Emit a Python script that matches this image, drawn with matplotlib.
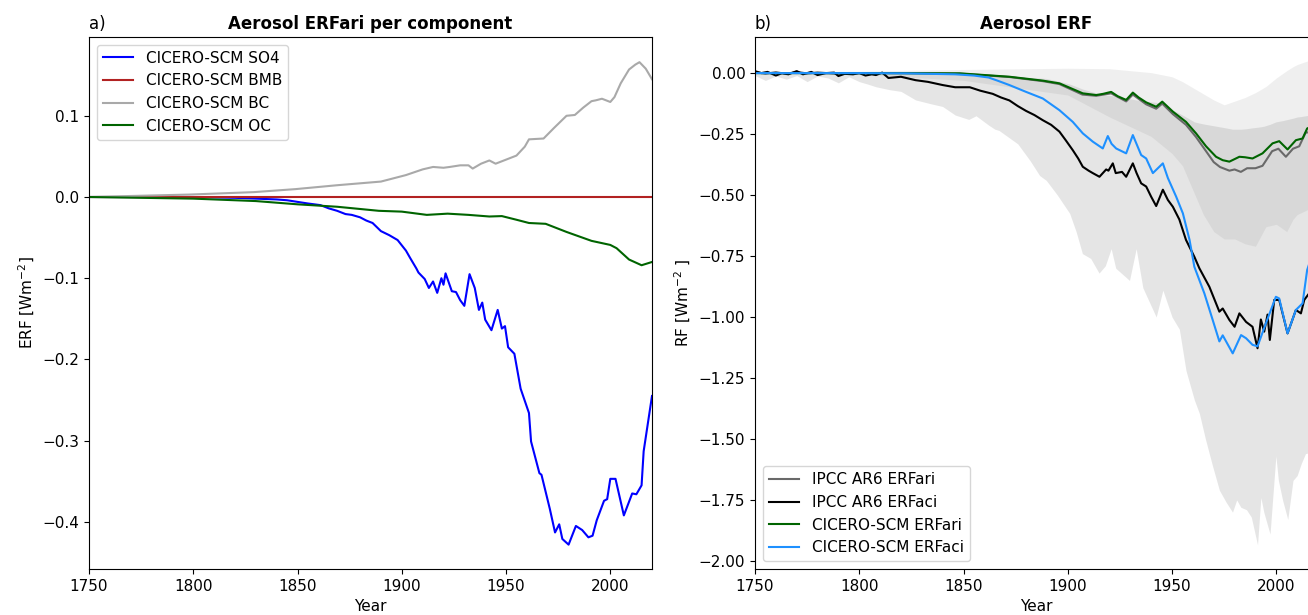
import matplotlib
matplotlib.use("Agg")
import matplotlib.pyplot as plt

plt.rcParams["font.size"] = 11

# ---------------- Panel a) data ----------------
so4_years = [1750, 1800, 1820, 1830, 1840, 1845, 1850, 1855, 1861, 1865, 1869, 1873, 1876, 1880, 1883, 1886,
             1890, 1894, 1898, 1902, 1904, 1907, 1908, 1911, 1913, 1915, 1917, 1919, 1920, 1921, 1924, 1926,
             1928, 1930, 1932.5, 1935, 1937, 1938.6, 1940, 1943, 1946, 1948, 1949.5, 1951, 1954, 1957, 1961,
             1962, 1966, 1967, 1971, 1973.5, 1975.5, 1977, 1980, 1983.5, 1986.5, 1989.5, 1991.5, 1993.5, 1997,
             1998.5, 2000, 2002.5, 2006.5, 2010.5, 2012.5, 2015, 2016, 2020]
so4_vals = [0.0, 0.0, -0.001, -0.002, -0.003, -0.004, -0.006, -0.008, -0.010, -0.014, -0.017, -0.021, -0.022,
            -0.025, -0.029, -0.032, -0.042, -0.047, -0.053, -0.066, -0.075, -0.088, -0.093, -0.101, -0.112,
            -0.104, -0.118, -0.100, -0.108, -0.094, -0.116, -0.117, -0.127, -0.134, -0.095, -0.112, -0.139,
            -0.130, -0.151, -0.164, -0.139, -0.162, -0.159, -0.185, -0.193, -0.236, -0.266, -0.301, -0.340,
            -0.342, -0.384, -0.413, -0.403, -0.421, -0.428, -0.405, -0.410, -0.419, -0.417, -0.398, -0.374,
            -0.372, -0.347, -0.347, -0.392, -0.365, -0.366, -0.355, -0.313, -0.245]

bmb_years = [1750, 2020]
bmb_vals = [0.0, 0.0]

bc_years = [1750, 1798, 1829, 1849, 1869, 1890, 1902, 1910, 1915, 1920, 1923, 1928, 1932, 1934, 1938, 1942,
            1945, 1950, 1955, 1959, 1961, 1968, 1973, 1979, 1983, 1987, 1991, 1993, 1996, 2000, 2002, 2005,
            2009, 2012, 2014, 2017, 2020]
bc_vals = [0.0, 0.003, 0.006, 0.0097, 0.0145, 0.019, 0.027, 0.034, 0.037, 0.036, 0.037, 0.039, 0.039, 0.035,
           0.041, 0.045, 0.041, 0.046, 0.051, 0.062, 0.071, 0.072, 0.085, 0.100, 0.101, 0.110, 0.118, 0.119,
           0.121, 0.117, 0.123, 0.140, 0.157, 0.163, 0.166, 0.158, 0.145]

oc_years = [1750, 1800, 1830, 1850, 1869, 1889, 1900, 1912, 1922, 1932, 1942, 1948, 1955, 1961, 1969, 1979,
            1991, 2000, 2003, 2009, 2015, 2020]
oc_vals = [0.0, -0.002, -0.005, -0.009, -0.012, -0.017, -0.018, -0.022, -0.0205, -0.022, -0.024, -0.0235,
           -0.028, -0.032, -0.033, -0.043, -0.054, -0.059, -0.063, -0.077, -0.084, -0.080]

# ---------------- Panel b) data ----------------
ipcc_ari_years = [1750, 1755, 1760, 1765, 1770, 1775, 1780, 1790, 1800, 1820, 1848, 1872, 1888, 1896, 1907,
                  1913.6, 1920.8, 1928, 1931.2, 1937.6, 1942.4, 1945.3, 1950.4, 1956.7, 1961.5, 1966.3,
                  1970, 1973, 1977.5, 1980, 1983, 1986, 1990, 1993.4, 1998, 2001, 2004.6, 2008, 2011, 2014, 2019]
ipcc_ari_vals = [0.005, -0.003, 0.004, -0.004, 0.006, -0.002, 0.003, -0.004, 0.0, 0.0, -0.002, -0.016, -0.033,
                 -0.045, -0.088, -0.093, -0.083, -0.116, -0.088, -0.128, -0.146, -0.125, -0.168, -0.212,
                 -0.262, -0.320, -0.365, -0.385, -0.400, -0.395, -0.405, -0.390, -0.390, -0.380, -0.320,
                 -0.310, -0.343, -0.310, -0.300, -0.245, -0.235]

ipcc_aci_years = [1750, 1753, 1756, 1760, 1763, 1766, 1770, 1773, 1777, 1780, 1784, 1788, 1790, 1793, 1797,
                  1800, 1803, 1806, 1808, 1811, 1814, 1820, 1827, 1833, 1840, 1846, 1853, 1858, 1864, 1868,
                  1872, 1876, 1880, 1884, 1888, 1892, 1896, 1899, 1902.4, 1905, 1907.2, 1910, 1912, 1915.2,
                  1918.4, 1919.5, 1921.6, 1923, 1926, 1928, 1931.2, 1933, 1935.2, 1937.6, 1940, 1942.4, 1945.6,
                  1948, 1950.4, 1953.5, 1956.7, 1960.7, 1963.1, 1967.9, 1971.1, 1972.7, 1974.3, 1977.5, 1980,
                  1982.3, 1985.5, 1988.6, 1991, 1992.6, 1994.2, 1995.8, 1996.9, 1999, 2001.4, 2005.4, 2009.4,
                  2011.8, 2013.4, 2016, 2019]
ipcc_aci_vals = [0.008, 0.0, 0.005, -0.010, 0.0, -0.005, 0.008, -0.005, 0.005, -0.008, 0.0, 0.002, -0.012,
                 -0.003, -0.005, 0.0, -0.010, -0.005, -0.008, 0.002, -0.020, -0.015, -0.029, -0.036, -0.049,
                 -0.058, -0.058, -0.072, -0.085, -0.100, -0.112, -0.135, -0.155, -0.172, -0.193, -0.212,
                 -0.240, -0.275, -0.316, -0.350, -0.384, -0.400, -0.410, -0.425, -0.395, -0.400, -0.370,
                 -0.410, -0.405, -0.425, -0.370, -0.410, -0.452, -0.465, -0.507, -0.545, -0.478, -0.520,
                 -0.548, -0.600, -0.684, -0.753, -0.800, -0.876, -0.944, -0.978, -0.965, -1.012, -1.040,
                 -0.985, -1.020, -1.040, -1.128, -1.010, -1.060, -0.990, -1.094, -0.930, -0.930, -1.067,
                 -0.971, -0.985, -0.930, -0.900, -0.880]

cicero_ari_years = [1750, 1800, 1848.2, 1872.1, 1888.1, 1896, 1907.2, 1913.6, 1917, 1920.8, 1924, 1928,
                    1931.2, 1934, 1937.6, 1942.4, 1945.3, 1950.4, 1956.7, 1961.5, 1966.3, 1971.1, 1974.3,
                    1977.5, 1982.3, 1985, 1988.6, 1993.4, 1998.2, 2001.4, 2005.4, 2009.4, 2012.6, 2014.8, 2019]
cicero_ari_vals = [0.0, 0.0, -0.001, -0.015, -0.031, -0.042, -0.083, -0.090, -0.085, -0.077, -0.095, -0.110,
                   -0.080, -0.100, -0.120, -0.138, -0.117, -0.158, -0.200, -0.247, -0.300, -0.343, -0.357,
                   -0.363, -0.343, -0.345, -0.350, -0.329, -0.288, -0.279, -0.313, -0.275, -0.268, -0.227,
                   -0.210]

cicero_aci_years = [1750, 1800, 1822, 1846, 1855, 1862, 1866, 1872, 1880, 1888, 1896, 1902.4, 1907.2, 1912,
                    1916.8, 1919.2, 1921, 1923.2, 1928, 1931.2, 1935.2, 1937.6, 1940.8, 1945.6, 1948, 1952,
                    1955.2, 1958.4, 1960.7, 1965.5, 1969.5, 1972.7, 1974.3, 1979.1, 1983.1, 1985.5, 1988.6,
                    1991, 1995, 1999.8, 2001.4, 2005.4, 2009.4, 2012.6, 2014.8, 2019]
cicero_aci_vals = [0.0, 0.0, -0.001, -0.005, -0.010, -0.018, -0.030, -0.049, -0.077, -0.104, -0.152, -0.200,
                   -0.247, -0.281, -0.309, -0.258, -0.290, -0.309, -0.329, -0.254, -0.336, -0.350, -0.410,
                   -0.370, -0.430, -0.507, -0.575, -0.684, -0.794, -0.903, -1.012, -1.100, -1.075, -1.149,
                   -1.074, -1.087, -1.114, -1.120, -1.026, -0.917, -0.924, -1.067, -0.971, -0.944, -0.807,
                   -0.700]

# IPCC AR6 ERFari uncertainty range (upper / lower)
ari_rng_years = [1750, 1800, 1850, 1900, 1920, 1940, 1950, 1955, 1960, 1965, 1970, 1975, 1980, 1985, 1990,
                 1995, 2000, 2005, 2008, 2010, 2015, 2019]
ari_rng_upper = [0.005, 0.008, 0.015, 0.020, 0.018, 0.002, -0.015, -0.035, -0.060, -0.085, -0.110, -0.130,
                 -0.115, -0.100, -0.080, -0.055, -0.020, 0.010, 0.026, 0.035, 0.050, 0.049]
ari_rng_lower = [0.0, -0.005, -0.030, -0.090, -0.180, -0.260, -0.330, -0.380, -0.480, -0.580, -0.650, -0.680,
                 -0.680, -0.700, -0.710, -0.630, -0.620, -0.650, -0.600, -0.580, -0.560, -0.550]

# IPCC AR6 ERFaci uncertainty range (upper / lower)
aci_rng_years = [1750, 1755, 1760, 1765, 1770, 1775, 1780, 1785, 1790, 1795, 1800, 1804, 1808, 1814.5, 1820,
                 1827, 1834, 1840, 1846, 1852.5, 1856, 1862, 1865, 1867, 1876, 1882, 1886.5, 1889.7, 1895,
                 1900.9, 1904, 1907, 1911, 1915, 1918, 1920.8, 1923, 1929.6, 1932.8, 1936, 1942.4, 1945.6,
                 1950, 1953.5, 1956.7, 1960.7, 1963.1, 1966, 1969.4, 1972.7, 1976, 1979, 1981, 1983, 1985.7,
                 1988, 1991, 1992.6, 1994, 1997, 1999.8, 2001, 2003, 2005.5, 2008, 2010, 2012, 2014, 2019]
aci_rng_upper = [0.0, 0.0, 0.0, 0.0, 0.0, 0.0, 0.0, 0.0, 0.0, 0.0, 0.0, 0.0, 0.0, 0.0, 0.0, 0.0, -0.001,
                 -0.002, -0.004, -0.006, -0.008, -0.010, -0.011, -0.012, -0.015, -0.018, -0.020, -0.022,
                 -0.032, -0.045, -0.055, -0.065, -0.075, -0.085, -0.090, -0.092, -0.095, -0.105, -0.110,
                 -0.115, -0.120, -0.125, -0.150, -0.165, -0.180, -0.200, -0.205, -0.210, -0.215, -0.220,
                 -0.225, -0.230, -0.230, -0.230, -0.228, -0.225, -0.222, -0.220, -0.218, -0.210, -0.200,
                 -0.198, -0.195, -0.190, -0.185, -0.180, -0.178, -0.175, -0.170]
aci_rng_lower = [-0.010, -0.030, -0.012, -0.025, -0.010, -0.035, -0.012, -0.020, -0.040, -0.015, -0.035,
                 -0.045, -0.056, -0.068, -0.075, -0.110, -0.125, -0.137, -0.172, -0.190, -0.175, -0.213,
                 -0.230, -0.235, -0.290, -0.360, -0.420, -0.440, -0.500, -0.575, -0.650, -0.740, -0.760,
                 -0.820, -0.790, -0.720, -0.800, -0.850, -0.720, -0.880, -1.000, -0.890, -1.000, -1.050,
                 -1.220, -1.340, -1.395, -1.500, -1.610, -1.710, -1.760, -1.800, -1.750, -1.780, -1.790,
                 -1.820, -1.934, -1.740, -1.800, -1.890, -1.570, -1.670, -1.750, -1.830, -1.670, -1.650,
                 -1.600, -1.560, -1.550]

W, H = 1308, 615
fig = plt.figure(figsize=(W / 100, H / 100), dpi=100)

ax1 = fig.add_axes([89 / W, 1 - 569 / H, (652 - 89) / W, (569 - 37) / H])
ax2 = fig.add_axes([755 / W, 1 - 569 / H, (652 - 89) / W, (569 - 37) / H])

# ---- panel a ----
ax1.plot(so4_years, so4_vals, color="blue", lw=1.5, label="CICERO-SCM SO4")
ax1.plot(bmb_years, bmb_vals, color="firebrick", lw=1.5, label="CICERO-SCM BMB")
ax1.plot(bc_years, bc_vals, color="darkgray", lw=1.5, label="CICERO-SCM BC")
ax1.plot(oc_years, oc_vals, color="darkgreen", lw=1.5, label="CICERO-SCM OC")
ax1.set_xlim(1750, 2020)
ax1.set_ylim(-0.458, 0.197)
ax1.set_xlabel("Year")
ax1.set_ylabel("ERF [Wm$^{-2}$]")
ax1.set_title("Aerosol ERFari per component", fontweight="bold", fontsize=12)
ax1.set_title("a)", loc="left", fontsize=12)
ax1.legend(loc="upper left", fontsize=11)

# ---- panel b ----
ax2.fill_between(ari_rng_years, ari_rng_lower, ari_rng_upper, color="gray", alpha=0.12, lw=0)
ax2.fill_between(aci_rng_years, aci_rng_lower, aci_rng_upper, color="gray", alpha=0.2, lw=0)
ax2.plot(ipcc_ari_years, ipcc_ari_vals, color="dimgray", lw=1.5, label="IPCC AR6 ERFari")
ax2.plot(ipcc_aci_years, ipcc_aci_vals, color="black", lw=1.5, label="IPCC AR6 ERFaci")
ax2.plot(cicero_ari_years, cicero_ari_vals, color="darkgreen", lw=1.5, label="CICERO-SCM ERFari")
ax2.plot(cicero_aci_years, cicero_aci_vals, color="dodgerblue", lw=1.5, label="CICERO-SCM ERFaci")
ax2.set_xlim(1750, 2020)
ax2.set_ylim(-2.033, 0.148)
ax2.set_xlabel("Year")
ax2.set_ylabel("RF [Wm$^{-2}$ ]")
ax2.set_title("Aerosol ERF", fontweight="bold", fontsize=12)
ax2.set_title("b)", loc="left", fontsize=12)
ax2.legend(loc="lower left", fontsize=11)

fig.savefig("out.png", dpi=100)
